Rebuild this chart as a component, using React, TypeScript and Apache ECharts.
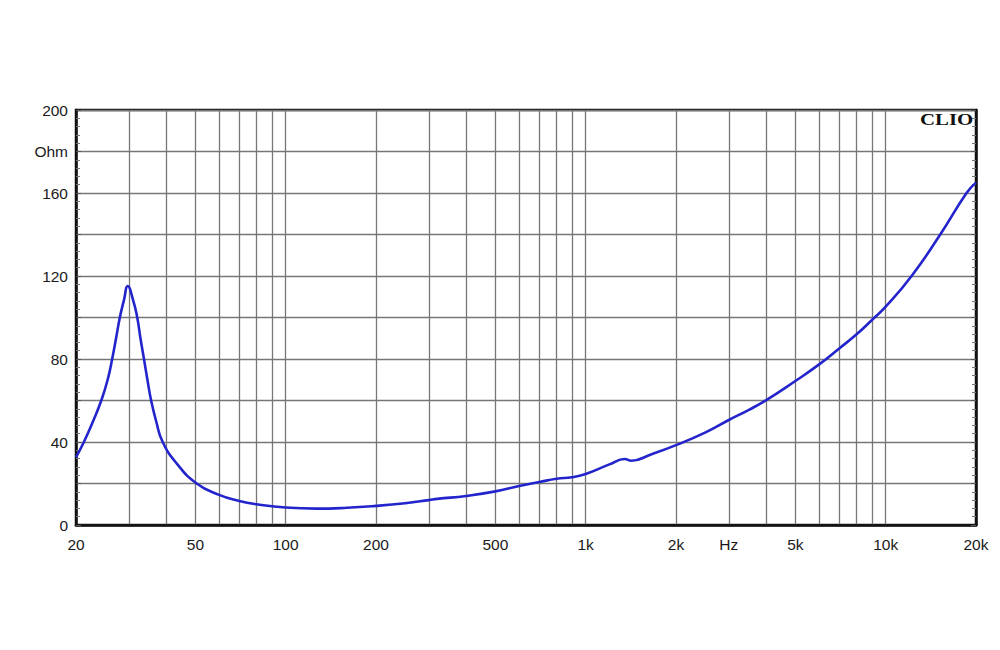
import React, { useEffect, useRef } from "react";
import * as echarts from "echarts";

// Impedance curve
const freqs = [
  20, 21.25, 22.8, 24.28, 25.5, 26.4, 27.2, 28.0, 28.9, 29.75, 31.0, 32.0, 32.8, 33.7,
  34.6, 35.6, 37.0, 38.9, 43.3, 50.5, 60, 70, 80, 100, 127, 160, 200, 250,
  300, 320, 400, 500, 600, 700, 800, 900, 1000, 1200, 1350, 1420, 1650, 2000, 2500,
  3000, 3500, 4000, 5000, 6000, 7000, 8000, 9000, 10000, 12200, 15200, 18600, 20000,
];
const ohms = [
  32.6, 40, 50, 60, 70, 80, 90, 100, 108.4, 115.2, 108.4, 100, 90, 80,
  70, 60, 50, 40, 29.7, 20, 14.5, 11.6, 10, 8.4, 7.9, 8.3, 9.2, 10.5,
  12, 12.6, 14, 16.2, 18.8, 20.7, 22.3, 23, 24.6, 29.2, 31.8, 31, 34, 38.5, 44.5,
  50.6, 55.5, 60.2, 69.4, 77.4, 85.1, 91.9, 98.8, 105.2, 120, 140, 160, 165,
];

// Vertical grid lines (Hz)
const gridFreqs = [
  30, 40, 50, 60, 70, 80, 90, 100, 200, 300, 400, 500, 600, 700, 800, 900,
  1000, 2000, 3000, 4000, 5000, 6000, 7000, 8000, 9000, 10000,
];
// X tick labels
const xLabelFreqs = [20, 50, 100, 200, 500, 1000, 2000, 3000, 5000, 10000, 20000];
const xLabelTexts = ["20", "50", "100", "200", "500", "1k", "2k", "Hz", "5k", "10k", "20k"];
// Y tick labels
const yLabelValues = [0, 40, 80, 120, 160, 180, 200];
const yLabelTexts = ["0", "40", "80", "120", "160", "Ohm", "200"];

const FONT = '"Liberation Sans", Arial, sans-serif';

export default function App() {
  const ref = useRef<HTMLDivElement>(null);

  useEffect(() => {
    if (!ref.current) return;
    const chart = echarts.init(ref.current, undefined, { renderer: "svg" });
    const data = freqs.map((f, i) => [Math.log10(f), ohms[i]]);
    const xMin = Math.log10(20);
    const xMax = Math.log10(20000);

    const xLabel = (v: number) => {
      const f = Math.round(Math.pow(10, v));
      const idx = xLabelFreqs.indexOf(f);
      return idx >= 0 ? xLabelTexts[idx] : "";
    };
    const yLabel = (v: number) => {
      const idx = yLabelValues.indexOf(Math.round(v));
      return idx >= 0 ? yLabelTexts[idx] : "";
    };

    chart.setOption({
      animation: false,
      backgroundColor: "#ffffff",
      grid: {
        left: 76,
        right: 24,
        top: 110,
        bottom: 125,
        show: true,
        borderColor: "#111",
        borderWidth: 2.5,
        containLabel: false,
      },
      graphic: [
        {
          type: "text",
          x: 920,
          y: 111,
          scaleX: 1.3,
          z: 100,
          style: {
            text: "CLIO",
            font: '900 16px "Liberation Serif", serif',
            fill: "#111",
            verticalAlign: "top",
            align: "left",
          },
        },
      ],
      xAxis: {
        type: "value",
        min: xMin,
        max: xMax,
        axisLine: { show: true, lineStyle: { color: "#111", width: 2.5 } },
        axisTick: {
          show: false,
          customValues: gridFreqs.map((f) => Math.log10(f)),
        },
        axisLabel: {
          customValues: xLabelFreqs.map((f) => Math.log10(f)),
          formatter: xLabel,
          color: "#1a1a1a",
          fontSize: 15.5,
          fontFamily: FONT,
          margin: 11,
          showMinLabel: true,
          showMaxLabel: true,
        },
        splitLine: { show: true, lineStyle: { color: "#777", width: 1.3 } },
      },
      yAxis: [
        {
          type: "value",
          min: 0,
          max: 200,
          interval: 20,
          axisLine: { show: true, lineStyle: { color: "#111", width: 2.5 } },
          axisTick: { show: true, inside: true, length: 5, lineStyle: { color: "#555" } },
          minorTick: { show: true, splitNumber: 5, length: 4, lineStyle: { color: "#777" } },
          axisLabel: {
            formatter: yLabel,
            color: "#1a1a1a",
            fontSize: 15.5,
            fontFamily: FONT,
            margin: 8,
          },
          splitLine: { show: true, lineStyle: { color: "#777", width: 1.3 } },
        },
        {
          type: "value",
          position: "right",
          min: 0,
          max: 200,
          interval: 20,
          axisLine: { show: true, lineStyle: { color: "#111", width: 2.5 } },
          axisTick: { show: true, inside: true, length: 5, lineStyle: { color: "#555" } },
          minorTick: { show: true, splitNumber: 5, length: 4, lineStyle: { color: "#777" } },
          axisLabel: { show: false },
          splitLine: { show: false },
        },
      ],
      series: [
        {
          type: "line",
          data,
          showSymbol: false,
          symbol: "none",
          smooth: 0.5,
          lineStyle: { color: "#2424cc", width: 2.6 },
          z: 10,
        },
      ],
    });
    return () => chart.dispose();
  }, []);

  return (
    <div
      ref={ref}
      style={{ position: "fixed", left: 0, top: 0, width: 1000, height: 650, background: "#fff" }}
    />
  );
}
